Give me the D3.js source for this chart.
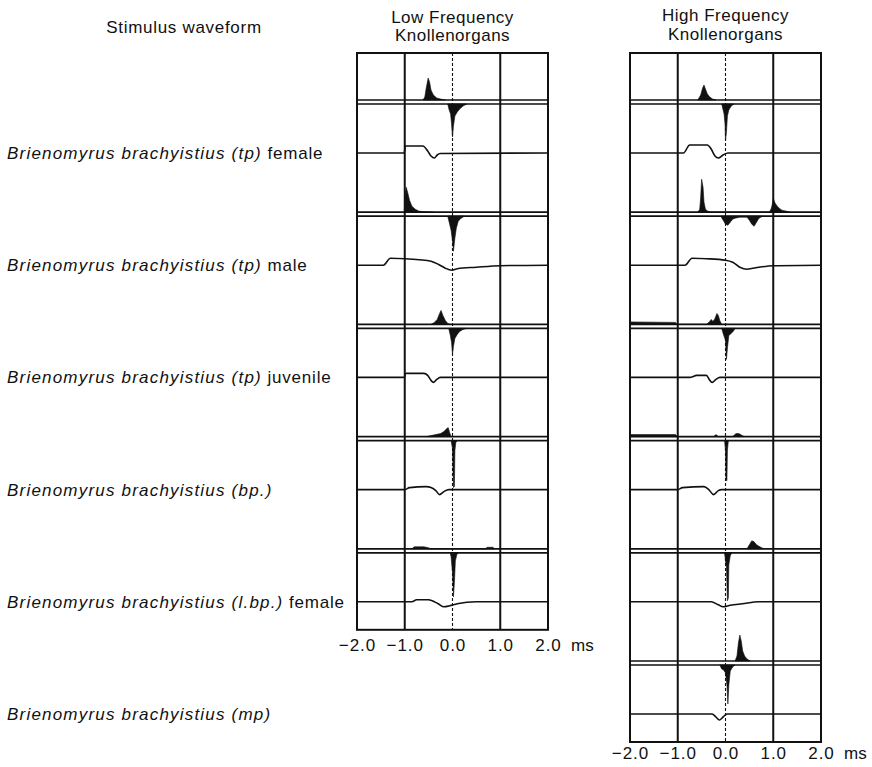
<!DOCTYPE html>
<html>
<head>
<meta charset="utf-8">
<script src="https://cdn.jsdelivr.net/npm/d3@7"></script>
<style>
  body { margin: 0; background: #fff; }
  svg { display: block; }
</style>
</head>
<body>
<svg id="main-svg" width="872" height="767"></svg>
<script>
// species labels (italic part + plain suffix)
var species = [
    "Brienomyrus brachyistius (tp)",
    "Brienomyrus brachyistius (tp)",
    "Brienomyrus brachyistius (tp)",
    "Brienomyrus brachyistius (bp.)",
    "Brienomyrus brachyistius (l.bp.)",
    "Brienomyrus brachyistius (mp)"
];
var speciesNote = [" female", " male", " juvenile", "", " female", ""];

var tickValues = [-2, -1, 0, 1, 2];

// stimulus waveforms, [time ms, relative amplitude]
var lfWave = [
    [[-2, 0], [-1.01, 0], [-0.99, 7], [-0.62, 7], [-0.52, 2], [-0.45, -3], [-0.38, -5], [-0.32, -2], [-0.26, -0.5], [2, 0]],
    [[-2, 0], [-1.45, 0], [-1.3, 7], [-1.0, 6.5], [-0.7, 5.5], [-0.45, 4], [-0.3, 1], [-0.15, -3], [-0.02, -5], [0.1, -3.5], [0.5, -2], [1.0, -0.5], [2, 0]],
    [[-2, 0], [-1.01, 0], [-0.98, 4], [-0.6, 4], [-0.52, 2], [-0.45, -3], [-0.4, -5], [-0.33, -2], [-0.25, 0], [2, 0]],
    [[-2, 0], [-1.0, 0], [-0.9, 2], [-0.55, 3], [-0.45, 2], [-0.35, -1], [-0.27, -5], [-0.18, -2], [-0.08, 0], [2, 0]],
    [[-2, 0], [-0.85, 0], [-0.75, 2], [-0.5, 2], [-0.3, -2], [-0.18, -5], [-0.06, -4], [0.1, -2], [0.3, -0.5], [0.5, 0], [2, 0]]
];
var hfWave = [
    [[-2, 0], [-0.88, 0], [-0.75, 8], [-0.38, 8], [-0.3, 4], [-0.22, -3], [-0.15, -5], [-0.05, -2], [0.05, 0], [2, 0]],
    [[-2, 0], [-0.85, 0], [-0.7, 7], [-0.4, 6.5], [0.0, 5], [0.15, 3], [0.3, -2], [0.45, -4], [0.7, -2], [1.0, -0.5], [2, 0]],
    [[-2, 0], [-0.75, 0], [-0.6, 2], [-0.4, 2], [-0.34, -2], [-0.28, -5], [-0.2, -2], [-0.12, 0], [2, 0]],
    [[-2, 0], [-1.0, 0], [-0.9, 2], [-0.45, 3], [-0.35, 0], [-0.25, -5], [-0.15, -1], [-0.08, 0], [2, 0]],
    [[-2, 0], [-0.3, 0], [-0.15, -3], [-0.05, -5], [0.1, -3.5], [0.35, -2], [0.7, 0], [2, 0]],
    [[-2, 0], [-0.28, 0], [-0.2, -3], [-0.13, -6], [-0.05, -3], [0.03, 0], [2, 0]]
];

// response histograms above the baseline
var lfUp = [
    [[-0.62, 0], [-0.58, 3], [-0.55, 12], [-0.51, 22], [-0.48, 18], [-0.45, 10], [-0.4, 5], [-0.33, 2], [-0.25, 1], [-0.15, 0]],
    [[-1.01, 0], [-1.0, 14], [-0.97, 25], [-0.94, 20], [-0.9, 12], [-0.85, 6], [-0.78, 3], [-0.7, 1], [-0.6, 0.5], [-0.4, 0]],
    [[-0.45, 0], [-0.38, 2], [-0.32, 5], [-0.27, 11], [-0.24, 14], [-0.2, 9], [-0.15, 4], [-0.1, 1], [-0.05, 0]],
    [[-0.55, 0], [-0.45, 1], [-0.35, 2], [-0.25, 3], [-0.18, 5], [-0.12, 8], [-0.09, 9], [-0.06, 4], [-0.03, 0]],
    [[-0.85, 0], [-0.8, 2], [-0.6, 2], [-0.5, 1], [-0.45, 0], [0.7, 0], [0.72, 1.5], [0.85, 1.5], [0.88, 0]]
];
var hfUp = [
    [[-0.58, 0], [-0.52, 5], [-0.48, 12], [-0.45, 15], [-0.42, 11], [-0.38, 6], [-0.33, 3], [-0.27, 1], [-0.2, 0]],
    [[-0.58, 0], [-0.54, 3], [-0.52, 15], [-0.5, 33], [-0.47, 25], [-0.45, 10], [-0.42, 3], [-0.37, 1], [-0.3, 0],
     [0.92, 0], [0.96, 4], [0.99, 10], [1.0, 14], [1.04, 9], [1.1, 5], [1.18, 2], [1.28, 1], [1.35, 0]],
    [[-2, 2.5], [-1.05, 2], [-1.0, 0], [-0.4, 0], [-0.33, 3], [-0.3, 5], [-0.26, 3], [-0.22, 6], [-0.18, 11], [-0.15, 9], [-0.12, 4], [-0.08, 0]],
    [[-2, 2], [-1.05, 2], [-1.0, 0], [-0.25, 0], [-0.2, 2], [-0.15, 0], [0.15, 0], [0.22, 3], [0.28, 3], [0.35, 1], [0.4, 0]],
    [[0.45, 0], [0.5, 4], [0.55, 8], [0.6, 7], [0.65, 4], [0.72, 2], [0.8, 0]],
    [[0.2, 0], [0.24, 5], [0.27, 18], [0.3, 26], [0.33, 20], [0.36, 10], [0.4, 5], [0.45, 2], [0.52, 0]]
];

// response histograms below the baseline
var lfDown = [
    [[-0.1, 0], [-0.07, 6], [-0.04, 10], [-0.02, 20], [0.0, 33], [0.02, 22], [0.05, 12], [0.1, 8], [0.15, 5], [0.22, 2], [0.3, 0]],
    [[-0.1, 0], [-0.07, 6], [-0.03, 14], [0.0, 25], [0.02, 35], [0.05, 22], [0.08, 12], [0.12, 5], [0.18, 2], [0.25, 0]],
    [[-0.08, 0], [-0.05, 6], [-0.02, 14], [0.0, 26], [0.02, 18], [0.05, 10], [0.1, 6], [0.15, 3], [0.22, 1], [0.3, 0]],
    [[-0.03, 0], [0.0, 8], [0.01, 30], [0.02, 47], [0.04, 46], [0.05, 10], [0.07, 2], [0.1, 0]],
    [[-0.05, 0], [-0.03, 4], [0.0, 20], [0.02, 44], [0.04, 30], [0.06, 8], [0.09, 2], [0.12, 0]]
];
var hfDown = [
    [[-0.08, 0], [-0.05, 6], [-0.03, 10], [-0.01, 20], [0.0, 37], [0.02, 28], [0.04, 12], [0.07, 6], [0.12, 2], [0.18, 0]],
    [[-0.1, 0], [-0.05, 4], [0.0, 8], [0.05, 9], [0.1, 6], [0.15, 3], [0.2, 2], [0.3, 1], [0.45, 1], [0.5, 4], [0.55, 8], [0.6, 10], [0.65, 6], [0.7, 2], [0.78, 0]],
    [[-0.08, 0], [-0.05, 5], [0.0, 12], [0.02, 31], [0.04, 20], [0.07, 7], [0.12, 5], [0.16, 3], [0.2, 0]],
    [[-0.02, 0], [0.0, 10], [0.01, 40], [0.03, 40], [0.04, 10], [0.06, 0]],
    [[-0.02, 0], [0.0, 8], [0.02, 15], [0.04, 48], [0.06, 45], [0.07, 12], [0.1, 3], [0.13, 0]],
    [[-0.12, 0], [-0.08, 4], [-0.04, 5], [0.0, 8], [0.03, 20], [0.05, 39], [0.07, 20], [0.1, 6], [0.15, 2], [0.2, 0]]
];

var svg = d3.select("#main-svg");
var ink = "#111";
var font = "'Liberation Sans', Arial, sans-serif";

// shared vertical layout: row index -> histogram baseline
var rowY = d3.scaleLinear().domain([0, 5]).range([102, 663]);
var waveGap = 51;
var histH = d3.scaleLinear().domain([0, 50]).range([0, 50]);
var waveV = d3.scaleLinear().domain([-10, 10]).range([10, -10]);

function drawPanel(x, waves, ups, downs, titleLines, titleY, labelPad) {
    var g = svg.append("g");
    var top = rowY(0) - 49;
    var bottom = rowY(waves.length - 1) + waveGap + 28;

    // frame
    g.append("rect")
        .attr("x", x(-2))
        .attr("y", top)
        .attr("width", x(2) - x(-2))
        .attr("height", bottom - top)
        .attr("fill", "none")
        .attr("stroke", ink)
        .attr("stroke-width", 2);

    // vertical grid
    g.selectAll(".vgrid")
        .data([-1, 1])
        .enter()
        .append("line")
        .attr("x1", d => x(d))
        .attr("x2", d => x(d))
        .attr("y1", top)
        .attr("y2", bottom)
        .attr("stroke", ink)
        .attr("stroke-width", 2);

    g.append("line")
        .attr("x1", x(0))
        .attr("x2", x(0))
        .attr("y1", top)
        .attr("y2", bottom)
        .attr("stroke", ink)
        .attr("stroke-width", 1.1)
        .attr("stroke-dasharray", "3,2");

    waves.forEach((w, i) => {
        var base = rowY(i);
        var upBase = base - 2;
        var downBase = base + 2;

        // double baseline
        [upBase, downBase].forEach(yy => {
            g.append("line")
                .attr("x1", x(-2))
                .attr("x2", x(2))
                .attr("y1", yy)
                .attr("y2", yy)
                .attr("stroke", ink)
                .attr("stroke-width", 1.7);
        });

        var upArea = d3.area()
            .x(d => x(d[0]))
            .y0(upBase)
            .y1(d => upBase - histH(d[1]));
        g.append("path")
            .datum(ups[i])
            .attr("fill", ink)
            .attr("stroke", ink)
            .attr("stroke-width", 0.6)
            .attr("d", upArea);

        var downArea = d3.area()
            .x(d => x(d[0]))
            .y0(downBase)
            .y1(d => downBase + histH(d[1]));
        g.append("path")
            .datum(downs[i])
            .attr("fill", ink)
            .attr("stroke", ink)
            .attr("stroke-width", 0.6)
            .attr("d", downArea);

        // stimulus waveform
        var wy = base + waveGap;
        var line = d3.line()
            .x(d => x(d[0]))
            .y(d => wy + waveV(d[1]))
            .curve(d3.curveMonotoneX);
        g.append("path")
            .datum(w)
            .attr("fill", "none")
            .attr("stroke", ink)
            .attr("stroke-width", 1.6)
            .attr("d", line);
    });

    // time axis
    var axis = g.append("g")
        .attr("transform", `translate(0,${bottom})`)
        .call(d3.axisBottom(x).tickValues(tickValues).tickSize(0).tickPadding(labelPad).tickFormat(d3.format(".1f")));
    axis.select(".domain").remove();
    axis.attr("font-size", 17)
        .attr("font-family", font);
    axis.selectAll("text")
        .attr("fill", ink)
        .attr("letter-spacing", "1px");

    g.append("text")
        .attr("x", x(2) + 23)
        .attr("y", bottom + labelPad)
        .attr("dy", "0.71em")
        .attr("font-size", 17)
        .attr("font-family", font)
        .attr("fill", ink)
        .text("ms");

    // panel title
    titleLines.forEach((t, k) => {
        g.append("text")
            .attr("x", x(0))
            .attr("y", titleY[k])
            .attr("text-anchor", "middle")
            .attr("font-size", 17)
            .attr("letter-spacing", "0.5px")
            .attr("font-family", font)
            .attr("fill", ink)
            .text(t);
    });
}

var lfX = d3.scaleLinear().domain([-2, 2]).range([357, 548]);
var hfX = d3.scaleLinear().domain([-2, 2]).range([630, 821]);

drawPanel(lfX, lfWave, lfUp, lfDown, ["Low Frequency", "Knollenorgans"], [23, 41], 9);
drawPanel(hfX, hfWave, hfUp, hfDown, ["High Frequency", "Knollenorgans"], [21, 40], 5);

// left column heading
svg.append("text")
    .attr("x", 184)
    .attr("y", 33)
    .attr("text-anchor", "middle")
    .attr("font-size", 17)
    .attr("letter-spacing", "0.7px")
    .attr("font-family", font)
    .attr("fill", ink)
    .text("Stimulus waveform");

// species labels, aligned with each waveform
species.forEach((s, i) => {
    var t = svg.append("text")
        .attr("x", 7)
        .attr("y", rowY(i) + waveGap + 6)
        .attr("font-size", 17)
        .attr("font-family", font)
        .attr("fill", ink);
    t.append("tspan")
        .attr("font-style", "italic")
        .attr("letter-spacing", "1.2px")
        .text(s);
    if (speciesNote[i]) {
        t.append("tspan")
            .attr("letter-spacing", "0.8px")
            .text(speciesNote[i]);
    }
});
</script>
</body>
</html>
